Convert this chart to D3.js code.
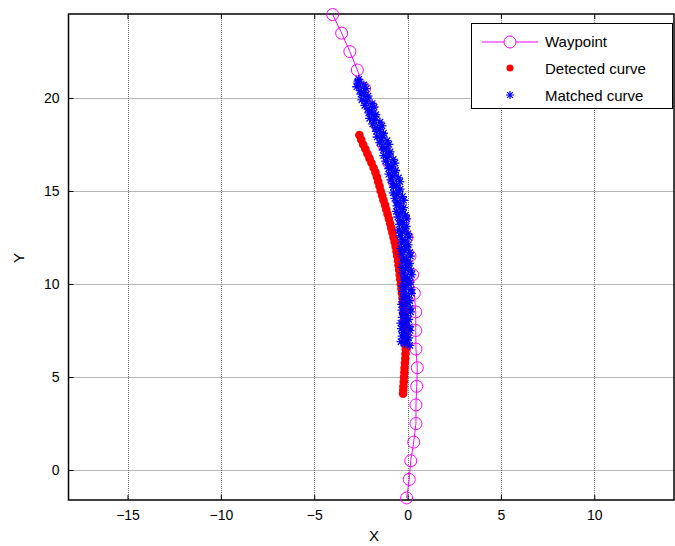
<!DOCTYPE html>
<html><head><meta charset="utf-8">
<script src="https://cdn.jsdelivr.net/npm/d3@7"></script>
<style>
html,body{margin:0;padding:0;background:#fff;}
text{font-family:"Liberation Sans",Arial,sans-serif;}
</style></head>
<body><svg id="c" width="675" height="546"></svg>
<script>
const xTicks = [-15,-10,-5,0,5,10];
const yTicks = [0,5,10,15,20];
const waypointX = [-0.05,0.09,0.17,0.33,0.45,0.45,0.49,0.52,0.45,0.44,0.44,0.36,0.27,0.13,-0.03,-0.22,-0.45,-0.72,-1.0,-1.3,-1.62,-1.96,-2.3,-2.69,-3.09,-3.53,-4.01];
const waypointY = [-1.5,-0.5,0.5,1.5,2.5,3.5,4.5,5.5,6.5,7.5,8.5,9.5,10.5,11.5,12.5,13.5,14.5,15.5,16.5,17.5,18.5,19.5,20.5,21.5,22.49,23.48,24.48];
const detectedX = [-0.24,-0.23,-0.22,-0.20,-0.19,-0.17,-0.16,-0.14,-0.12,-0.11,-0.10,-0.11,-0.12,-0.12,-0.13,-0.14,-0.16,-0.18,-0.20,-0.22,-0.25,-0.27,-0.30,-0.33,-0.36,-0.39,-0.42,-0.45,-0.48,-0.51,-0.55,-0.59,-0.64,-0.69,-0.75,-0.81,-0.87,-0.93,-1.00,-1.07,-1.14,-1.21,-1.29,-1.36,-1.44,-1.50,-1.57,-1.64,-1.72,-1.82,-1.93,-2.04,-2.15,-2.26,-2.38,-2.48,-2.58];
const detectedY = [4.1,4.3,4.5,4.75,5.0,5.25,5.5,5.75,6.0,6.25,6.5,6.75,7.0,7.25,7.5,7.75,8.0,8.25,8.5,8.75,9.0,9.25,9.5,9.75,10.0,10.25,10.5,10.75,11.0,11.25,11.5,11.75,12.0,12.25,12.5,12.75,13.0,13.25,13.5,13.75,14.0,14.25,14.5,14.75,15.0,15.25,15.5,15.75,16.0,16.25,16.5,16.75,17.0,17.25,17.5,17.75,18.0];
const matchedX = [0.12,-0.16,-0.35,-0.02,0.06,-0.29,-0.09,-0.24,0.13,-0.33,
  0.10,-0.18,-0.36,-0.03,0.06,-0.28,-0.08,-0.22,0.16,-0.30,
  0.14,-0.14,-0.32,0.02,0.11,-0.23,-0.03,-0.17,0.21,-0.25,
  0.19,-0.09,-0.27,0.06,0.14,-0.20,0.00,-0.15,0.22,-0.24,
  0.18,-0.11,-0.29,0.03,0.10,-0.24,-0.05,-0.21,0.15,-0.31,
  0.12,-0.17,-0.36,-0.04,0.03,-0.32,-0.13,-0.29,0.07,-0.40,
  0.02,-0.27,-0.46,-0.14,-0.07,-0.43,-0.24,-0.40,-0.05,-0.52,
  -0.11,-0.40,-0.60,-0.28,-0.22,-0.57,-0.39,-0.56,-0.21,-0.68,
  -0.27,-0.57,-0.77,-0.46,-0.40,-0.76,-0.59,-0.76,-0.41,-0.89,
  -0.49,-0.79,-1.00,-0.69,-0.64,-1.01,-0.84,-1.02,-0.68,-1.17,
  -0.77,-1.07,-1.28,-0.98,-0.94,-1.31,-1.15,-1.33,-1.00,-1.49,
  -1.10,-1.41,-1.63,-1.33,-1.29,-1.67,-1.51,-1.70,-1.37,-1.87,
  -1.48,-1.80,-2.03,-1.74,-1.70,-2.08,-1.93,-2.12,-1.79,-2.29,
  -1.90,-2.22,-2.45,-2.16,-2.12,-2.50,-2.35,-2.54,-2.22,-2.72,
  -2.34,-2.66,-2.65,-2.61];
const matchedY = [6.7,6.8,6.9,7.0,7.1,7.2,7.3,7.4,7.5,7.6,
  7.7,7.8,7.9,8.0,8.1,8.2,8.3,8.4,8.5,8.6,
  8.7,8.8,8.9,9.0,9.1,9.2,9.3,9.4,9.5,9.6,
  9.7,9.8,9.9,10.0,10.1,10.2,10.3,10.4,10.5,10.6,
  10.7,10.8,10.9,11.0,11.1,11.2,11.3,11.4,11.5,11.6,
  11.7,11.8,11.9,12.0,12.1,12.2,12.3,12.4,12.5,12.6,
  12.7,12.8,12.9,13.0,13.1,13.2,13.3,13.4,13.5,13.6,
  13.7,13.8,13.9,14.0,14.1,14.2,14.3,14.4,14.5,14.6,
  14.7,14.8,14.9,15.0,15.1,15.2,15.3,15.4,15.5,15.6,
  15.7,15.8,15.9,16.0,16.1,16.2,16.3,16.4,16.5,16.6,
  16.7,16.8,16.9,17.0,17.1,17.2,17.3,17.4,17.5,17.6,
  17.7,17.8,17.9,18.0,18.1,18.2,18.3,18.4,18.5,18.6,
  18.7,18.8,18.9,19.0,19.1,19.2,19.3,19.4,19.5,19.6,
  19.7,19.8,19.9,20.0,20.1,20.2,20.3,20.4,20.5,20.6,
  20.7,20.8,20.9,21.0];
const seriesNames = ["Waypoint","Detected curve","Matched curve"];

const L=68.5, R=674, T=14, B=500;
const x = d3.scaleLinear().domain([-18.16,14.27]).range([L,R]);
const y = d3.scaleLinear().domain([-1.61,24.51]).range([B,T]);
const svg = d3.select("#c");

// grid
const g = svg.append("g");
g.selectAll(".gx").data(xTicks).join("line")
  .attr("x1",d=>Math.round(x(d))+0.5).attr("x2",d=>Math.round(x(d))+0.5)
  .attr("y1",T).attr("y2",B).attr("stroke","#6e6e6e").attr("stroke-dasharray","1,1");
g.selectAll(".gy").data(yTicks).join("line")
  .attr("y1",d=>Math.round(y(d))+0.5).attr("y2",d=>Math.round(y(d))+0.5)
  .attr("x1",L).attr("x2",R).attr("stroke","#6e6e6e").attr("stroke-dasharray","1,1");

// axes
const xAxisB = d3.axisBottom(x).tickValues(xTicks).tickSize(-5).tickPadding(10).tickFormat(d3.format("d"));
const xAxisT = d3.axisTop(x).tickValues(xTicks).tickSize(-5).tickFormat("");
const yAxisL = d3.axisLeft(y).tickValues(yTicks).tickSize(-5).tickPadding(9).tickFormat(d3.format("d"));
function style(sel){
  sel.select(".domain").remove();
  sel.selectAll("line").attr("stroke","#000");
  sel.selectAll("text").attr("font-size","14px").attr("fill","#000")
    .attr("font-family","Liberation Sans, Arial, sans-serif");
}
svg.append("g").attr("transform",`translate(0,${B})`).call(xAxisB).call(style);
svg.append("g").attr("transform",`translate(0,${T})`).call(xAxisT).call(style);
svg.append("g").attr("transform",`translate(${L},0)`).call(yAxisL).call(style);

// box
svg.append("rect").attr("x",L).attr("y",T).attr("width",R-L).attr("height",B-T)
  .attr("fill","none").attr("stroke","#000").attr("stroke-width",1.5);

// clip
svg.append("clipPath").attr("id","clip").append("rect").attr("x",L-8).attr("y",T-8).attr("width",R-L+16).attr("height",B-T+16);
const plot = svg.append("g").attr("clip-path","url(#clip)");

// waypoints
const wp = waypointX.map((v,i)=>[v,waypointY[i]]);
plot.append("path").datum(wp).attr("d",d3.line().curve(d3.curveLinear).x(d=>x(d[0])).y(d=>y(d[1])))
  .attr("fill","none").attr("stroke","#ff00ff").attr("stroke-width",1);
plot.selectAll(".wp").data(wp).join("circle")
  .attr("cx",d=>x(d[0])).attr("cy",d=>y(d[1])).attr("r",6)
  .attr("fill","none").attr("stroke","#ff00ff").attr("stroke-width",1);

// detected
const det = detectedX.map((v,i)=>[v,detectedY[i]]);
plot.selectAll(".det").data(det).join("circle")
  .attr("cx",d=>x(d[0])).attr("cy",d=>y(d[1])).attr("r",4.3).attr("fill","#ff0000");

// matched (star markers)
const starPath = s => `M${-s},0H${s}M0,${-s}V${s}M${-s*0.7},${-s*0.7}L${s*0.7},${s*0.7}M${-s*0.7},${s*0.7}L${s*0.7},${-s*0.7}`;
const mat = matchedX.map((v,i)=>[v,matchedY[i]]);
plot.selectAll(".mat").data(mat).join("path")
  .attr("transform",d=>`translate(${x(d[0])},${y(d[1])})`)
  .attr("d",starPath(4.5)).attr("stroke","#0000ff").attr("stroke-width",1.3).attr("fill","none");

// axis labels
svg.append("text").attr("x",374).attr("y",541).attr("text-anchor","middle").attr("font-size","15px").text("X");
svg.append("text").attr("transform","translate(24,258) rotate(-90)").attr("text-anchor","middle").attr("font-size","15px").text("Y");

// legend
const lg = svg.append("g");
lg.append("rect").attr("x",471.5).attr("y",23.5).attr("width",201).attr("height",85)
  .attr("fill","#fff").attr("stroke","#000").attr("stroke-width",1);
const rowsY = [42,69,96];
lg.append("line").attr("x1",482).attr("x2",538).attr("y1",rowsY[0]).attr("y2",rowsY[0]).attr("stroke","#ff00ff");
lg.append("circle").attr("cx",510).attr("cy",rowsY[0]).attr("r",6).attr("fill","#fff").attr("stroke","#ff00ff");
lg.append("circle").attr("cx",510).attr("cy",rowsY[1]-1).attr("r",3.5).attr("fill","#ff0000");
lg.append("path").attr("transform",`translate(510,${rowsY[2]-1})`).attr("d",starPath(4)).attr("stroke","#0000ff").attr("stroke-width",1.2);
lg.selectAll(".lt").data(seriesNames).join("text")
  .attr("x",545).attr("y",(d,i)=>rowsY[i]+5).attr("font-size","15px").attr("fill","#000").text(d=>d);
</script></body></html>
